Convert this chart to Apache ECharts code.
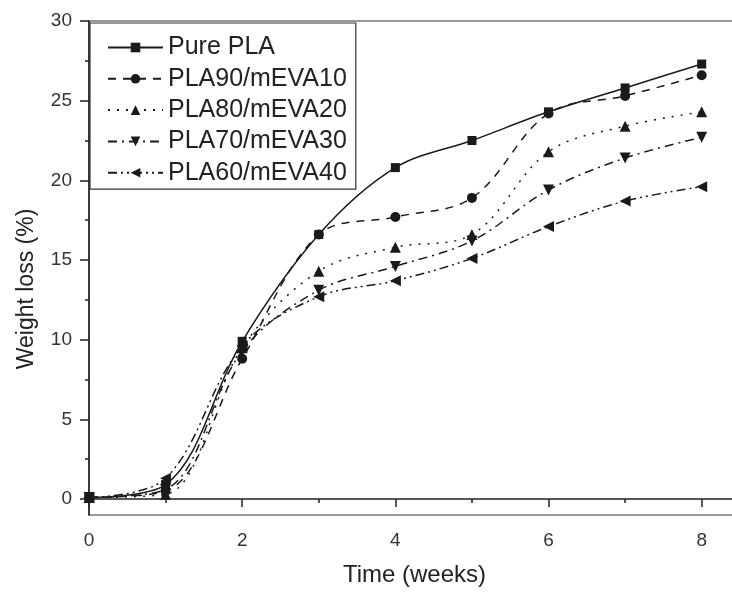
<!DOCTYPE html>
<html>
<head>
<meta charset="utf-8">
<script src="https://cdn.jsdelivr.net/npm/echarts@6/dist/echarts.min.js"></script>
<style>html,body{margin:0;padding:0;background:#fff}#c{width:732px;height:592px}</style>
</head>
<body>
<div id="c"></div>
<script>
var weeks = [0, 1, 2, 3, 4, 5, 6, 7, 8];
var seriesNames = ['Pure PLA', 'PLA90/mEVA10', 'PLA80/mEVA20', 'PLA70/mEVA30', 'PLA60/mEVA40'];
var purePLA   = [0.1, 0.9, 9.9, 16.6, 20.8, 22.5, 24.3, 25.8, 27.3];
var pla90     = [0.1, 0.5, 8.8, 16.6, 17.7, 18.9, 24.2, 25.3, 26.6];
var pla80     = [0.1, 0.3, 9.5, 14.3, 15.8, 16.6, 21.8, 23.4, 24.3];
var pla70     = [0.1, 0.6, 9.3, 13.1, 14.6, 16.2, 19.4, 21.4, 22.7];
var pla60     = [0.1, 1.3, 9.6, 12.7, 13.7, 15.1, 17.1, 18.7, 19.6];
var xTickLabels = [0, 2, 4, 6, 8];
var xMinorTicks = [1, 3, 5, 7];
var yTickLabels = [0, 5, 10, 15, 20, 25, 30];
var yMinorTicks = [2.5, 7.5, 12.5, 17.5, 22.5, 27.5];

function pairs(vals) { return weeks.map(function (w, i) { return [w, vals[i]]; }); }

var ink = '#1a1a1a';
var font = 'Liberation Sans, Arial, sans-serif';
var styles = [
  { data: purePLA, symbol: 'rect', size: 9, rot: 0, dash: 'solid' },
  { data: pla90, symbol: 'circle', size: 10, rot: 0, dash: [8, 7] },
  { data: pla80, symbol: 'triangle', size: 11, rot: 0, dash: [2, 7] },
  { data: pla70, symbol: 'triangle', size: 11, rot: 180, dash: [9, 5, 2, 5] },
  { data: pla60, symbol: 'triangle', size: 11, rot: 90, dash: [9, 4, 2, 4, 2, 4] }
];

var series = styles.map(function (s, i) {
  return {
    name: seriesNames[i], type: 'line', xAxisIndex: 0, yAxisIndex: 0,
    data: pairs(s.data), smooth: 0.35,
    symbol: s.symbol, symbolSize: s.size, symbolRotate: s.rot,
    showAllSymbol: true,
    lineStyle: { color: ink, width: 1.5, type: s.dash },
    itemStyle: { color: ink, borderWidth: 0 },
    emphasis: { disabled: true }, animation: false, z: 3
  };
});

var chart = echarts.init(document.getElementById('c'), null, { renderer: 'canvas' });
chart.setOption({
  backgroundColor: '#fff',
  animation: false,
  grid: { left: 89, top: 21, width: 651, height: 494, show: true, borderColor: '#333', borderWidth: 1.2, backgroundColor: 'transparent', containLabel: false, outerBoundsMode: 'none' },
  legend: {
    data: seriesNames, orient: 'vertical', left: 90, top: 23,
    padding: [12, 9, 4, 17], itemGap: 6.3, itemWidth: 55, itemHeight: 12,
    borderColor: '#333', borderWidth: 1.2, backgroundColor: '#fff',
    textStyle: { fontFamily: font, fontSize: 25, color: '#222', lineHeight: 25 },
    symbolRotate: 'inherit',
    selectedMode: false
  },
  xAxis: [{
    type: 'value', min: 0, max: 8.5, position: 'bottom',
    name: 'Time (weeks)', nameLocation: 'middle', nameGap: 48,
    nameTextStyle: { fontFamily: font, fontSize: 24, color: '#222' },
    axisLine: { show: true, lineStyle: { color: '#222', width: 1.5 } },
    axisTick: { show: true, inside: false, length: 8, customValues: xTickLabels, lineStyle: { color: '#222', width: 1.5 } },
    axisLabel: { customValues: xTickLabels, margin: 16, fontFamily: font, fontSize: 19, color: '#333' },
    splitLine: { show: false }
  }, {
    type: 'value', min: 0, max: 8.5, position: 'bottom', gridIndex: 0,
    axisLine: { show: false },
    axisTick: { show: true, inside: false, length: 4, customValues: xMinorTicks, lineStyle: { color: '#222', width: 1.5 } },
    axisLabel: { show: false }, splitLine: { show: false }
  }],
  yAxis: [{
    type: 'value', min: -1, max: 30,
    name: 'Weight loss (%)', nameLocation: 'middle', nameGap: 51,
    nameTextStyle: { fontFamily: font, fontSize: 23, color: '#222', padding: [0, 42, 0, 0] },
    axisLine: { show: true, lineStyle: { color: '#222', width: 1.5 } },
    axisTick: { show: true, inside: false, length: 9, customValues: yTickLabels, lineStyle: { color: '#222', width: 1.5 } },
    axisLabel: { customValues: yTickLabels, margin: 17, fontFamily: font, fontSize: 19, color: '#333' },
    splitLine: { show: false }
  }, {
    type: 'value', min: -1, max: 30, position: 'left', gridIndex: 0,
    axisLine: { show: false },
    axisTick: { show: true, inside: false, length: 4, customValues: yMinorTicks, lineStyle: { color: '#222', width: 1.5 } },
    axisLabel: { show: false }, splitLine: { show: false }
  }],
  series: series
});
</script>
</body>
</html>
